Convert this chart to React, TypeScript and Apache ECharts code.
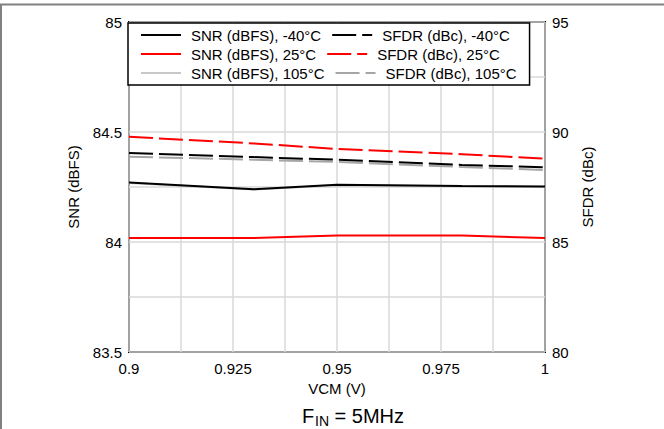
import React, { useEffect, useRef } from "react";
import * as echarts from "echarts";

const vcm = [0.9, 0.93, 0.95, 0.98, 1.0];
const snrM40 = [84.27, 84.24, 84.26, 84.255, 84.252];
const snr25 = [84.018, 84.018, 84.029, 84.029, 84.018];
const snr105 = [84.268, 84.239, 84.258, 84.253, 84.25];
const sfdrM40 = [89.05, 88.86, 88.74, 88.5, 88.4];
const sfdr25 = [89.78, 89.48, 89.23, 88.99, 88.79];
const sfdr105 = [88.88, 88.74, 88.64, 88.41, 88.27];

const names = {
  snrM40: "SNR (dBFS), -40°C",
  sfdrM40: "SFDR (dBc), -40°C",
  snr25: "SNR (dBFS), 25°C",
  sfdr25: "SFDR (dBc), 25°C",
  snr105: "SNR (dBFS), 105°C",
  sfdr105: "SFDR (dBc), 105°C",
};

const FONT = "Liberation Sans, Arial, sans-serif";
const FS = 15;

function pairs(xs: number[], ys: number[]) {
  return xs.map((x, i) => [x, ys[i]]);
}

export default function App() {
  const ref = useRef<HTMLDivElement>(null);
  useEffect(() => {
    if (!ref.current) return;
    const chart = echarts.init(ref.current, undefined, { renderer: "svg" });
    const dash = [24, 6];
    const mk = (name: string, data: number[][], color: string, axis: number, dashed: boolean) => ({
      name,
      type: "line",
      yAxisIndex: axis,
      data,
      symbol: "none",
      lineStyle: { color, width: 2, type: dashed ? dash : "solid" },
      itemStyle: { color },
    });
    const label = { fontFamily: FONT, fontSize: FS, color: "#000" };
    chart.setOption({
      animation: false,
      backgroundColor: "#fff",
      textStyle: { fontFamily: FONT },
      grid: {
        left: 129,
        right: 119,
        top: 22,
        bottom: 77,
        show: true,
        borderColor: "#000",
        borderWidth: 2,
        containLabel: false,
      },
      legend: {
        data: [names.snrM40, names.sfdrM40, names.snr25, names.sfdr25, names.snr105, names.sfdr105],
        orient: "horizontal",
        left: 128,
        top: 23,
        width: 400,
        padding: [4, 6, 4, 12],
        itemGap: 3,
        itemWidth: 40,
        itemHeight: 14,
        itemStyle: { opacity: 0 },
        borderColor: "#000",
        borderWidth: 1.5,
        backgroundColor: "#fff",
        borderRadius: 0,
        z: 10,
        textStyle: {
          fontFamily: FONT,
          fontSize: FS,
          color: "#000",
          lineHeight: 16,
          padding: [0, 7, 0, 5],
        },
      },
      xAxis: {
        type: "value",
        min: 0.9,
        max: 1,
        interval: 0.0125,
        name: "VCM (V)",
        nameLocation: "middle",
        nameGap: 25,
        nameTextStyle: label,
        axisLine: { show: false },
        axisTick: { show: false },
        axisLabel: {
          ...label,
          margin: 9,
          showMaxLabel: true,
          showMinLabel: true,
          formatter: (v: number) => {
            const r = Math.round(v * 1000);
            return r % 25 === 0 ? String(r / 1000) : "";
          },
        },
        splitLine: { show: true, lineStyle: { color: "#d9d9d9", width: 1.5 } },
      },
      yAxis: [
        {
          type: "value",
          min: 83.5,
          max: 85,
          interval: 0.25,
          name: "SNR (dBFS)",
          nameLocation: "middle",
          nameGap: 48,
          nameTextStyle: label,
          axisLine: { show: false },
          axisTick: { show: false },
          axisLabel: {
            ...label,
            margin: 7,
            formatter: (v: number) => {
              const r = Math.round(v * 100);
              return r % 50 === 0 ? String(r / 100) : "";
            },
          },
          splitLine: { show: true, lineStyle: { color: "#d9d9d9", width: 1.5 } },
        },
        {
          type: "value",
          min: 80,
          max: 95,
          interval: 2.5,
          position: "right",
          name: "SFDR (dBc)",
          nameLocation: "middle",
          nameGap: 35,
          nameTextStyle: label,
          axisLine: { show: false },
          axisTick: { show: false },
          axisLabel: {
            ...label,
            margin: 7,
            formatter: (v: number) => {
              const r = Math.round(v * 10);
              return r % 50 === 0 ? String(r / 10) : "";
            },
          },
          splitLine: { show: false },
        },
      ],
      graphic: [
        { type: "line", shape: { x1: 0, y1: 4.5, x2: 664, y2: 4.5 }, style: { stroke: "#808080", lineWidth: 2 }, silent: true },
        { type: "line", shape: { x1: 1, y1: 4, x2: 1, y2: 429 }, style: { stroke: "#808080", lineWidth: 2 }, silent: true },
        {
          type: "text",
          x: 302,
          y: 406,
          silent: true,
          style: { text: "F", fontFamily: FONT, fontSize: 20, fill: "#000", verticalAlign: "top" },
        },
        {
          type: "text",
          x: 315,
          y: 414,
          silent: true,
          style: { text: "IN", fontFamily: FONT, fontSize: 14, fill: "#000", verticalAlign: "top" },
        },
        {
          type: "text",
          x: 329,
          y: 406,
          silent: true,
          style: { text: " = 5MHz", fontFamily: FONT, fontSize: 20, fill: "#000", verticalAlign: "top" },
        },
      ],
      series: [
        mk(names.snr105, pairs(vcm, snr105), "#c8c8c8", 0, false),
        mk(names.sfdr105, pairs(vcm, sfdr105), "#a6a6a6", 1, true),
        mk(names.snr25, pairs(vcm, snr25), "#ff0000", 0, false),
        mk(names.sfdr25, pairs(vcm, sfdr25), "#ff0000", 1, true),
        mk(names.snrM40, pairs(vcm, snrM40), "#000000", 0, false),
        mk(names.sfdrM40, pairs(vcm, sfdrM40), "#000000", 1, true),
      ],
    });
    return () => chart.dispose();
  }, []);
  return <div ref={ref} style={{ width: 664, height: 429, position: "absolute", left: 0, top: 0 }} />;
}
